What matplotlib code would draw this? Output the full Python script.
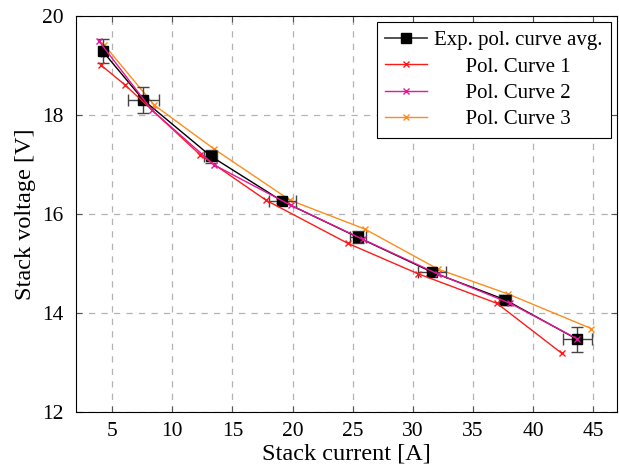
import matplotlib.pyplot as plt
from matplotlib.lines import Line2D
import numpy as np

# averaged polarisation curve (with spread)
avg_i = [4.2, 7.6, 13.2, 19.15, 25.45, 31.6, 37.7, 43.7]
avg_v = [19.29, 18.30, 17.17, 16.26, 15.53, 14.83, 14.27, 13.47]
avg_ierr = [0.15, 1.3, 0.55, 1.1, 0.7, 1.2, 0.5, 1.2]
avg_verr = [0.25, 0.26, 0.13, 0.04, 0.12, 0.05, 0.1, 0.25]

# individual polarisation curves
c1_i = [4.1, 6.1, 12.3, 17.8, 24.6, 30.4, 37.0, 42.4]
c1_v = [19.0, 18.6, 17.2, 16.28, 15.41, 14.8, 14.2, 13.19]
c2_i = [3.9, 8.3, 13.5, 19.85, 25.85, 32.1, 38.1, 43.7]
c2_v = [19.49, 18.10, 16.99, 16.18, 15.49, 14.79, 14.2, 13.48]
c3_i = [4.35, 8.5, 13.5, 19.8, 26.0, 32.1, 37.9, 44.85]
c3_v = [19.41, 18.2, 17.31, 16.28, 15.70, 14.89, 14.39, 13.69]

plt.rcParams['font.family'] = ['Liberation Serif', 'DejaVu Serif']

fig, ax = plt.subplots(figsize=(6.19, 4.68), dpi=100)
fig.subplots_adjust(left=0.123, right=0.997, top=0.966, bottom=0.119)

ax.errorbar(avg_i, avg_v, xerr=avg_ierr, yerr=avg_verr, color='black', lw=1.0,
            marker='s', markersize=7, ecolor='#444444', elinewidth=1.0,
            capsize=4, capthick=1.0, zorder=3)
h1, = ax.plot(c1_i, c1_v, color='#ff1a1a', lw=1.0, marker='x', markersize=5, zorder=4)
h2, = ax.plot(c2_i, c2_v, color='#e6169a', lw=1.0, marker='x', markersize=5, zorder=4)
h3, = ax.plot(c3_i, c3_v, color='#ff8c1a', lw=1.0, marker='x', markersize=5, zorder=2)
h0 = Line2D([], [], color='#444444', lw=1.3, marker='s', markersize=7,
            markerfacecolor='black', markeredgecolor='black')

ax.set_xlim(2, 47)
ax.set_ylim(12, 20)
ax.set_xticks(np.arange(5, 46, 5))
ax.set_yticks(np.arange(12, 21, 2))
ax.grid(True, color='#b3b3b3', linestyle=(0, (5, 5)), lw=0.9)
ax.tick_params(direction='in', top=True, right=True, length=4, color='#555555',
               labelsize=15.5)
ax.tick_params(axis='x', pad=7)
ax.tick_params(axis='y', pad=9)
ax.set_xlabel('Stack current [A]', fontsize=17.5, labelpad=2)
ax.set_ylabel('Stack voltage [V]', fontsize=17.5, labelpad=4)

leg = ax.legend([h0, h1, h2, h3],
                ['Exp. pol. curve avg.', '      Pol. Curve 1',
                 '      Pol. Curve 2', '      Pol. Curve 3'],
                loc='upper right', fancybox=False, framealpha=1, edgecolor='black',
                fontsize=15, handlelength=2.0, borderaxespad=0.3, labelspacing=0.33,
                handletextpad=0.35, borderpad=0.4)
leg.get_frame().set_linewidth(0.8)

plt.savefig('out.png', dpi=100)
